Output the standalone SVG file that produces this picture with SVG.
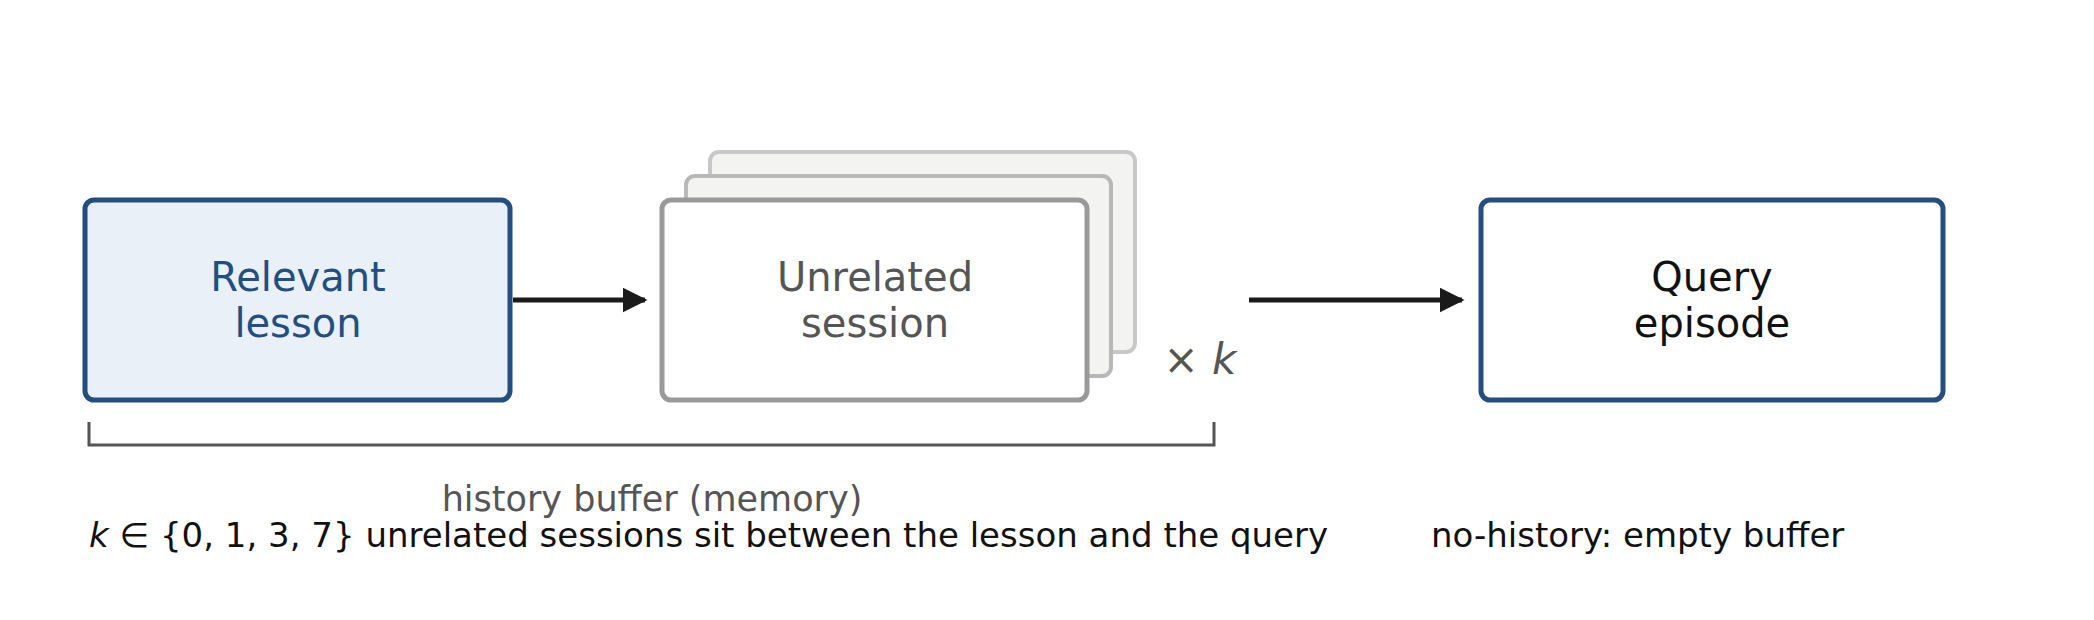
<svg xmlns="http://www.w3.org/2000/svg" width="2094" height="620" viewBox="0 0 2094 620">
<style>
text{font-family:"DejaVu Sans",sans-serif}
.lbl{font-size:40px;text-anchor:middle}
.conn{stroke:#1a1a1a;stroke-width:5;fill:none}
</style>
<defs><marker id="ah" viewBox="0 0 10 10" refX="9" refY="5" markerWidth="5" markerHeight="5" orient="auto" markerUnits="strokeWidth"><path d="M0,0L10,5L0,10z" fill="#1a1a1a"/></marker></defs>
<rect width="2094" height="620" fill="#fff"/>
<g id="relevant"><rect x="85" y="200" width="425" height="200" rx="9" fill="#e9f0f7" stroke="#234e7f" stroke-width="5"/>
<text class="lbl" x="298" y="291" fill="#234e7f">Relevant</text><text class="lbl" x="298" y="337" fill="#234e7f">lesson</text></g>
<g id="unrelated">
<rect x="710" y="152" width="425" height="200" rx="9" fill="#f3f3f1" stroke="#c8c8c8" stroke-width="4"/>
<rect x="686" y="176" width="425" height="200" rx="9" fill="#f3f3f1" stroke="#b8b8b8" stroke-width="4"/>
<rect x="662" y="200" width="425" height="200" rx="9" fill="#fff" stroke="#999" stroke-width="5"/>
<text class="lbl" x="875" y="291" fill="#555">Unrelated</text><text class="lbl" x="875" y="337" fill="#555">session</text>
<text x="1200" y="374" font-size="42" fill="#555" text-anchor="middle">× <tspan font-style="italic">k</tspan></text></g>
<g id="query"><rect x="1481" y="200" width="462" height="200" rx="9" fill="#fff" stroke="#234e7f" stroke-width="5"/>
<text class="lbl" x="1712" y="291" fill="#111">Query</text><text class="lbl" x="1712" y="337" fill="#111">episode</text></g>
<g id="connectors">
<line class="conn" x1="513" y1="300" x2="645" y2="300" marker-end="url(#ah)"/>
<line class="conn" x1="1249" y1="300" x2="1462" y2="300" marker-end="url(#ah)"/>
</g>
<g id="buffer"><path d="M89,422V445H1214V422" fill="none" stroke="#555" stroke-width="3"/>
<text x="652" y="511" font-size="35" fill="#555" text-anchor="middle">history buffer (memory)</text></g>
<text x="89" y="547" font-size="34" fill="#111"><tspan font-style="italic">k</tspan> ∈ {0, 1, 3, 7} unrelated sessions sit between the lesson and the query</text>
<text x="1431" y="547" font-size="34" fill="#111">no-history: empty buffer</text>
</svg>
